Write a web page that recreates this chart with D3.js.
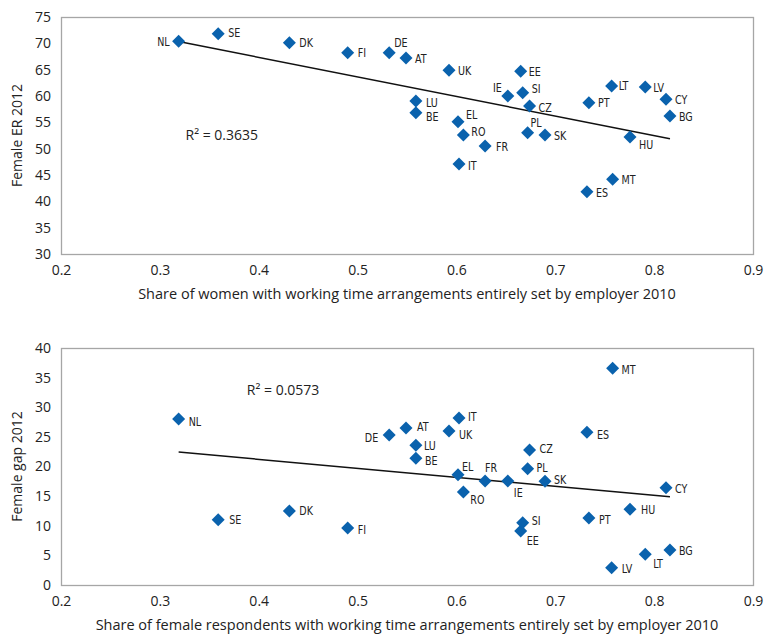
<!DOCTYPE html>
<html>
<head>
<meta charset="utf-8">
<script src="https://cdn.jsdelivr.net/npm/d3@7"></script>
<style>
  body { margin: 0; background: #fff; }
  svg { display: block; }
  text { font-family: "Open Sans", "DejaVu Sans", sans-serif; fill: #222; }
  .lbl { font-family: "Liberation Sans Narrow", "DejaVu Sans Condensed", sans-serif; font-size: 12.5px; }
</style>
</head>
<body>
<div id="container"></div>
<script>
// Data
var paises = ["NL","SE","DK","FI","DE","AT","UK","EE","IE","SI","CZ","LT","LV","PT","CY","BG","LU","BE","EL","RO","PL","SK","FR","HU","IT","MT","ES"];
var shareWomen = [0.319,0.359,0.431,0.490,0.532,0.549,0.5925,0.665,0.652,0.667,0.674,0.757,0.791,0.734,0.812,0.816,0.559,0.559,0.6016,0.607,0.672,0.6896,0.629,0.7756,0.6026,0.758,0.732];
var femaleER = [70.4,71.8,70.1,68.2,68.2,67.2,64.9,64.7,60.0,60.6,58.1,61.9,61.7,58.7,59.4,56.2,59.05,56.8,55.1,52.6,53.0,52.6,50.5,52.2,47.1,44.2,41.8];
// second chart: LT and LV sit the other way round
var shareRespondents = [0.319,0.359,0.431,0.490,0.532,0.549,0.5925,0.665,0.652,0.667,0.674,0.791,0.757,0.734,0.812,0.816,0.559,0.559,0.6016,0.607,0.672,0.6896,0.629,0.7756,0.6026,0.758,0.732];
var femaleGap = [28.0,11.0,12.5,9.6,25.3,26.5,26.0,9.1,17.55,10.5,22.8,5.2,2.9,11.3,16.4,5.9,23.6,21.4,18.6,15.7,19.6,17.5,17.55,12.8,28.2,36.6,25.8];
var xTicks = [0.2,0.3,0.4,0.5,0.6,0.7,0.8,0.9];
var yTicksER = [30,35,40,45,50,55,60,65,70,75];
var yTicksGap = [0,5,10,15,20,25,30,35,40];

// label placement [dx, dy, anchor] (layout only)
var posTopo = {NL:[-9,0,"end"],SE:[10,-1],DK:[10,0],FI:[10,0],DE:[5,-10],AT:[9,0],UK:[9,0],EE:[8,0],IE:[-6,-9,"end"],
  SI:[9,-4],CZ:[9,1],LT:[7,0],LV:[8,0],PT:[9,0],CY:[9,0],BG:[9,0],LU:[10,1],BE:[10,4],EL:[8,-7],RO:[8,-3],
  PL:[3,-10],SK:[9,1],FR:[11,0],HU:[9,7],IT:[9,2],MT:[9,0],ES:[9,1]};
var posBaixo = {NL:[10,2],DE:[-11,2,"end"],AT:[11,-1],IT:[9,-1],UK:[10,4],LU:[8,0],BE:[9,2],MT:[9,1],ES:[10,2],
  CZ:[10,-1],PL:[9,-1],EL:[4,-8],FR:[0,-14],IE:[6,11],SK:[9,-2],CY:[9,1],RO:[7,8],HU:[11,0],PT:[10,1],
  SI:[9,-2],EE:[6,9],BG:[9,0],LT:[8,9],LV:[10,1],SE:[11,0],DK:[10,0],FI:[10,1]};

var w = 764;
var h = 637;
var svg = d3.select("div#container").append("svg").attr("width", w).attr("height", h);

function regressao(xs, ys) {
    var n = xs.length, mx = d3.mean(xs), my = d3.mean(ys);
    var sxy = 0, sxx = 0;
    for (var i = 0; i < n; i++) {
        sxy += (xs[i]-mx)*(ys[i]-my);
        sxx += (xs[i]-mx)*(xs[i]-mx);
    }
    var b = sxy/sxx;
    return {b: b, a: my - b*mx};
}

function desenharGrafico(cfg) {
    var g = svg.append("g");
    var x = d3.scaleLinear().domain([0.2, 0.9]).range([61, 753]);
    var y = d3.scaleLinear().domain(cfg.yDomain).range([cfg.bottom, cfg.top]);

    // box
    g.append("rect")
        .attr("x", 61.5).attr("y", cfg.top + 0.5)
        .attr("width", 692).attr("height", cfg.bottom - cfg.top)
        .attr("fill", "none").attr("stroke", "#a6a6a6").attr("stroke-width", 1.3);

    var ax = g.append("g").attr("transform", "translate(0," + cfg.bottom + ")")
        .call(d3.axisBottom(x).tickValues(xTicks).tickSize(0).tickPadding(11).tickFormat(d3.format(".1f")));
    ax.select(".domain").remove();
    ax.selectAll("text").style("font-size", "14px").attr("fill", "#222").style("font-family", "'Open Sans', sans-serif");

    var ay = g.append("g").attr("transform", "translate(51,0)")
        .call(d3.axisLeft(y).tickValues(cfg.yTicks).tickSize(0).tickPadding(0));
    ay.select(".domain").remove();
    ay.selectAll("text").style("font-size", "14px").attr("fill", "#222").style("font-family", "'Open Sans', sans-serif");

    g.append("text")
        .attr("x", 407).attr("y", cfg.bottom + 45)
        .attr("text-anchor", "middle").style("font-size", "14.5px")
        .text(cfg.xTitle);
    g.append("text")
        .attr("transform", "translate(22," + ((cfg.top + cfg.bottom)/2) + ") rotate(-90)")
        .attr("text-anchor", "middle").style("font-size", "14px")
        .text(cfg.yTitle);

    // linha de tendencia
    var r = regressao(cfg.xs, cfg.values);
    var x0 = d3.min(cfg.xs), x1 = d3.max(cfg.xs);
    g.append("line")
        .attr("x1", x(x0)).attr("y1", y(r.a + r.b*x0))
        .attr("x2", x(x1)).attr("y2", y(r.a + r.b*x1))
        .attr("stroke", "#111").attr("stroke-width", 1.5);

    g.append("text")
        .attr("x", x(cfg.r2Pos[0])).attr("y", y(cfg.r2Pos[1]))
        .style("font-size", "14px")
        .text(cfg.r2Text);

    var dados = paises.map(function(p, i) {
        return {pais: p, x: cfg.xs[i], y: cfg.values[i]};
    });

    g.selectAll("path.ponto")
        .data(dados)
        .enter()
        .append("path")
        .attr("class", "ponto")
        .attr("d", "M0,-6.5L6.5,0L0,6.5L-6.5,0Z")
        .attr("transform", function(d) { return "translate(" + x(d.x) + "," + y(d.y) + ")"; })
        .attr("fill", "#0a62ad");

    g.selectAll("text.lbl")
        .data(dados)
        .enter()
        .append("text")
        .attr("class", "lbl")
        .attr("text-anchor", function(d) { return cfg.pos[d.pais][2] || "start"; })
        .attr("transform", function(d) {
            var p = cfg.pos[d.pais];
            return "translate(" + (x(d.x) + p[0]) + "," + (y(d.y) + p[1] + 4.5) + ") scale(0.85,1)";
        })
        .text(function(d) { return d.pais; });
}

desenharGrafico({
    top: 17, bottom: 254, yDomain: [30, 75], yTicks: yTicksER, xs: shareWomen, values: femaleER,
    xTitle: "Share of women with working time arrangements entirely set by employer 2010",
    yTitle: "Female ER 2012", r2Text: "R\u00b2 = 0.3635", r2Pos: [0.326, 51.6], pos: posTopo
});
desenharGrafico({
    top: 348, bottom: 585, yDomain: [0, 40], yTicks: yTicksGap, xs: shareRespondents, values: femaleGap,
    xTitle: "Share of female respondents with working time arrangements entirely set by employer 2010",
    yTitle: "Female gap 2012", r2Text: "R\u00b2 = 0.0573", r2Pos: [0.388, 32.1], pos: posBaixo
});
</script>
</body>
</html>
